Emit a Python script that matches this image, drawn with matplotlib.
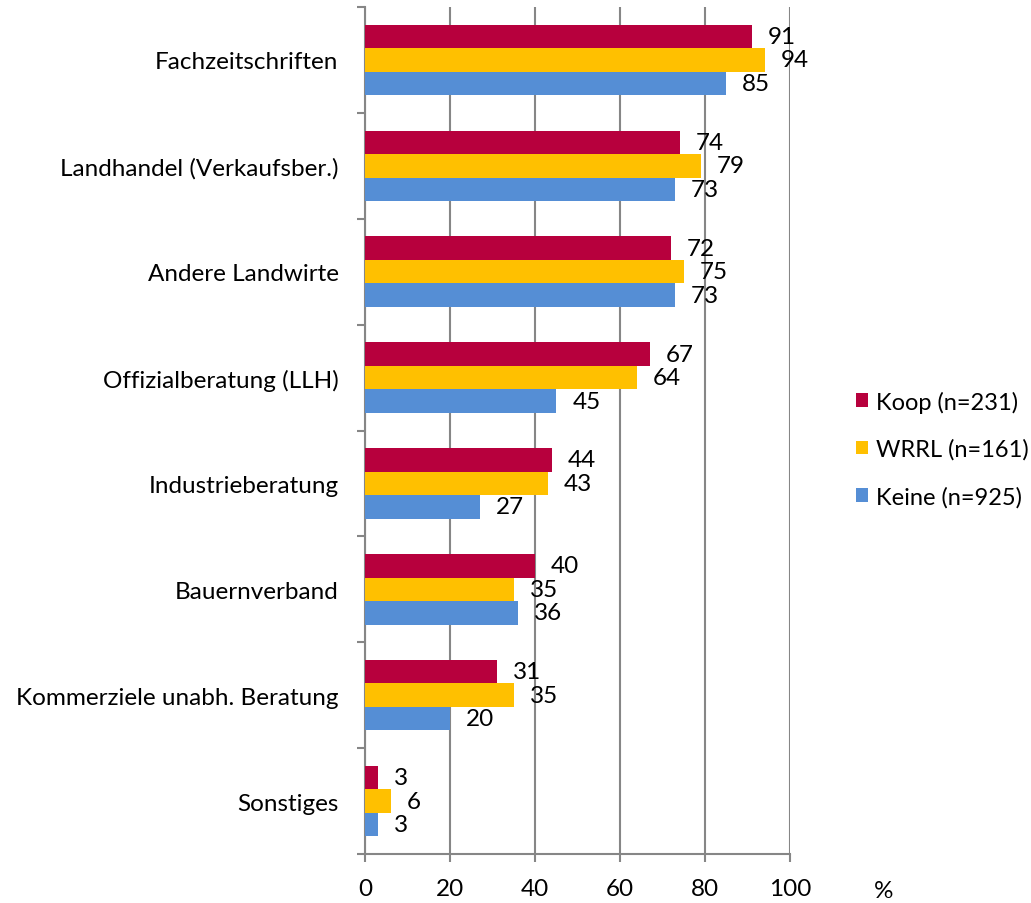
import matplotlib
matplotlib.use("Agg")
import matplotlib.pyplot as plt
import numpy as np

categories = ["Fachzeitschriften", "Landhandel (Verkaufsber.)", "Andere Landwirte",
              "Offizialberatung (LLH)", "Industrieberatung", "Bauernverband",
              "Kommerziele unabh. Beratung", "Sonstiges"]
koop = [91, 74, 72, 67, 44, 40, 31, 3]
wrrl = [94, 79, 75, 64, 43, 35, 35, 6]
keine = [85, 73, 73, 45, 27, 36, 20, 3]
series_names = ["Koop (n=231)", "WRRL (n=161)", "Keine (n=925)"]
colors = ["#B7003D", "#FFC000", "#558ED5"]
xticks = [0, 20, 40, 60, 80, 100]

plt.rcParams['font.family'] = ['Lato', 'DejaVu Sans']
fs = 17

fig = plt.figure(figsize=(10.31, 9.04), dpi=100)
ax = fig.add_axes([365 / 1031, 1 - 855 / 904, 425 / 1031, 847 / 904])

pos = np.arange(len(categories))
h = 0.222
grid_col = "#868686"

for k, (vals, name, col) in enumerate(zip([koop, wrrl, keine], series_names, colors)):
    y = pos + (k - 1) * h
    ax.barh(y, vals, height=h, color=col, label=name, zorder=3)
    for yy, v in zip(y, vals):
        ax.annotate(str(v), (v, yy), xytext=(16, 0), textcoords="offset pixels",
                    ha="left", va="center", fontsize=fs + 0.5, zorder=4)

ax.set_xlim(0, 100)
ax.set_ylim(len(categories) - 0.5, -0.5)
ax.set_xticks(xticks)
ax.set_xticklabels([str(t) for t in xticks], fontsize=fs + 0.5)
ax.grid(axis="x", color=grid_col, linewidth=1.5, zorder=0)

# category separators as major ticks, names on minor ticks
ax.set_yticks(np.arange(-0.5, len(categories), 1.0))
ax.set_yticklabels([])
ax.set_yticks(pos, minor=True)
ax.set_yticklabels(categories, minor=True, fontsize=fs + 0.5)
ax.tick_params(axis="y", which="major", length=6, width=1.5, color=grid_col)
ax.tick_params(axis="y", which="minor", length=0, pad=19)
ax.tick_params(axis="x", length=6, width=1.5, color=grid_col, pad=11)

for s in ["top", "right"]:
    ax.spines[s].set_visible(False)
for s in ["left", "bottom"]:
    ax.spines[s].set_color(grid_col)
    ax.spines[s].set_linewidth(1.5)

fig.text(884 / 1031, 1 - 892 / 904, "%", fontsize=fs + 0.5, ha="center", va="center")

fig.legend(loc="center left", bbox_to_anchor=(856 / 1031, 1 - 450 / 904), frameon=False,
           fontsize=fs, handlelength=0.5, handleheight=0.5, handletextpad=0.35,
           labelspacing=1.1, borderpad=0, borderaxespad=0)

fig.savefig("out.png", dpi=100)
